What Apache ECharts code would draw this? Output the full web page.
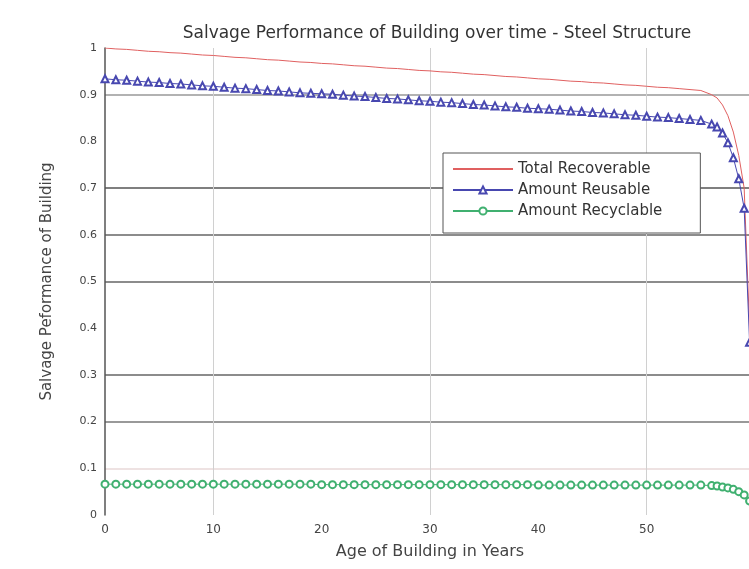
<!DOCTYPE html>
<html>
<head>
<meta charset="utf-8">
<script src="https://cdn.jsdelivr.net/npm/echarts@6/dist/echarts.min.js"></script>
<style>html,body{margin:0;padding:0;background:#fff}#c{width:749px;height:569px}</style>
</head>
<body>
<div id="c"></div>
<script>
const years = [0,1,2,3,4,5,6,7,8,9,10,11,12,13,14,15,16,17,18,19,20,21,22,23,24,25,26,27,28,29,30,31,32,33,34,35,36,37,38,39,40,41,42,43,44,45,46,47,48,49,50,51,52,53,54,55,56,56.5,57,57.5,58,58.5,59,59.5,60];
const totalRecoverable = [1.000,0.998,0.997,0.995,0.993,0.992,0.990,0.989,0.987,0.985,0.984,0.982,0.980,0.979,0.977,0.975,0.974,0.972,0.970,0.969,0.967,0.966,0.964,0.962,0.961,0.959,0.957,0.956,0.954,0.952,0.951,0.949,0.948,0.946,0.944,0.943,0.941,0.939,0.938,0.936,0.934,0.933,0.931,0.929,0.928,0.926,0.925,0.923,0.921,0.920,0.918,0.916,0.915,0.913,0.911,0.909,0.900,0.893,0.878,0.855,0.820,0.770,0.700,0.400,0.200];
const amountReusable = [0.934,0.932,0.931,0.929,0.927,0.926,0.924,0.923,0.921,0.919,0.918,0.916,0.914,0.913,0.911,0.909,0.908,0.906,0.904,0.903,0.902,0.901,0.899,0.897,0.896,0.894,0.892,0.891,0.889,0.887,0.886,0.884,0.883,0.881,0.879,0.878,0.876,0.874,0.873,0.871,0.870,0.869,0.867,0.865,0.864,0.862,0.861,0.859,0.857,0.856,0.854,0.852,0.851,0.849,0.847,0.845,0.837,0.831,0.818,0.797,0.765,0.720,0.657,0.370,0.185];
const amountRecyclable = [0.066,0.066,0.066,0.066,0.066,0.066,0.066,0.066,0.066,0.066,0.066,0.066,0.066,0.066,0.066,0.066,0.066,0.066,0.066,0.066,0.065,0.065,0.065,0.065,0.065,0.065,0.065,0.065,0.065,0.065,0.065,0.065,0.065,0.065,0.065,0.065,0.065,0.065,0.065,0.065,0.064,0.064,0.064,0.064,0.064,0.064,0.064,0.064,0.064,0.064,0.064,0.064,0.064,0.064,0.064,0.064,0.063,0.062,0.060,0.058,0.055,0.050,0.043,0.030,0.015];
const seriesNames = ['Total Recoverable','Amount Reusable','Amount Recyclable'];
const xTicks = {min:0, max:60, interval:10};
const yTicks = {min:0, max:1, interval:0.1};

const pairs = arr => years.map((x,i)=>[x, arr[i]]);
const font = 'DejaVu Sans';
const chart = echarts.init(document.getElementById('c'), null, {renderer:'canvas'});
chart.setOption({
  animation:false,
  backgroundColor:'#fff',
  title:{
    text:'Salvage Performance of Building over time - Steel Structure',
    left:432, top:20, textAlign:'center',
    textStyle:{fontFamily:font, fontSize:17, fontWeight:'normal', color:'#333'}
  },
  legend:{
    orient:'vertical', left:443, top:153,
    data:[
      {name:seriesNames[0], itemStyle:{opacity:0}},
      {name:seriesNames[1]},
      {name:seriesNames[2]}
    ],
    itemWidth:60, itemHeight:9, itemGap:5,
    padding:[8,38,14,9],
    backgroundColor:'#fff', borderColor:'#555', borderWidth:1,
    textStyle:{fontFamily:font, fontSize:15, color:'#333', lineHeight:16}
  },
  grid:{left:105, right:-6, top:48, bottom:54, containLabel:false, outerBoundsMode:'none'},
  xAxis:{
    type:'value', min:xTicks.min, max:xTicks.max, interval:xTicks.interval,
    name:'Age of Building in Years', nameLocation:'middle', nameGap:29,
    nameTextStyle:{fontFamily:font, fontSize:16, color:'#444'},
    axisLine:{show:false}, axisTick:{show:false},
    axisLabel:{fontFamily:font, fontSize:12, color:'#444', margin:9, showMaxLabel:false},
    splitLine:{show:true, lineStyle:{color:['transparent','#d0d0d0'], width:1}}
  },
  yAxis:{
    type:'value', min:yTicks.min, max:yTicks.max, interval:yTicks.interval,
    name:'Salvage Peformance of Building', nameLocation:'middle', nameGap:50,
    nameTextStyle:{fontFamily:font, fontSize:15, color:'#444'},
    axisLine:{show:true, lineStyle:{color:'#555', width:1.5}}, axisTick:{show:false},
    axisLabel:{fontFamily:font, fontSize:11, color:'#444', margin:8},
    splitLine:{show:true, lineStyle:{width:1.5, color:['transparent','#e8d8d8','#777','#666','transparent','#666','#666','#555','transparent','#999','transparent']}}
  },
  series:[
    {name:seriesNames[0], type:'line', data:pairs(totalRecoverable), showSymbol:false, symbol:'none',
     lineStyle:{color:'#e06060', width:1}, itemStyle:{color:'#e06060'}},
    {name:seriesNames[1], type:'line', data:pairs(amountReusable), symbol:'emptyTriangle', symbolSize:7, showAllSymbol:true,
     lineStyle:{color:'#4848b0', width:1}, itemStyle:{color:'#4848b0', borderWidth:1}},
    {name:seriesNames[2], type:'line', data:pairs(amountRecyclable), symbol:'emptyCircle', symbolSize:7, showAllSymbol:true,
     lineStyle:{color:'#40b070', width:1}, itemStyle:{color:'#40b070', borderWidth:1}}
  ]
});
</script>
</body>
</html>
